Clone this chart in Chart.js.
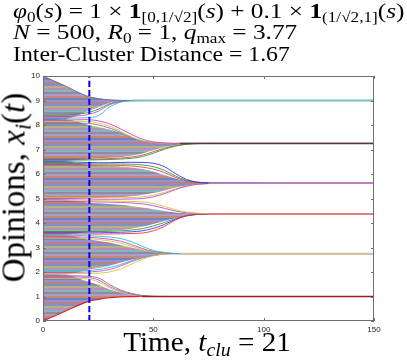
<!DOCTYPE html>
<html>
<head>
<meta charset="utf-8">
<script src="https://cdn.jsdelivr.net/npm/chart.js@4.4.1/dist/chart.umd.min.js"></script>
<style>
  html, body { margin: 0; padding: 0; background: #fff; }
  #wrap { position: relative; width: 407px; height: 361px; overflow: hidden; background: #fff; }
  #chart { position: absolute; left: 0; top: 0; }
  .tex { position: absolute; font-family: "Liberation Serif", "DejaVu Serif", serif; white-space: nowrap; line-height: 1; color: #000; transform-origin: 0 0; }
  .tex sub { font-size: 68%; vertical-align: -0.28em; line-height: 0; }
  .tex i { font-style: italic; }
</style>
</head>
<body>
<div id="wrap">
  <canvas id="chart" width="407" height="361"></canvas>
  <div class="tex" id="line1" style="left:13px; top:0px; font-size:22px; transform:scaleX(1.15);"><i>φ</i><sub>0</sub>(<i>s</i>) = 1 × <b>1</b><sub>[0,1/√2]</sub>(<i>s</i>) + 0.1 × <b>1</b><sub>(1/√2,1]</sub>(<i>s</i>)</div>
  <div class="tex" id="line2" style="left:13px; top:21px; font-size:22px; transform:scaleX(1.15);"><i>N</i> = 500, <i>R</i><sub>0</sub> = 1, <i>q</i><sub>max</sub> = 3.77</div>
  <div class="tex" id="line3" style="left:13px; top:43px; font-size:22px; transform:scaleX(1.08);">Inter-Cluster Distance = 1.67</div>
  <div class="tex" id="ylab" style="left:-136px; top:171px; width:300px; height:33px; text-align:center; font-size:33px; transform-origin:50% 50%; transform:rotate(-90deg);">Opinions, <i>x<sub>i</sub></i>(<i>t</i>)</div>
  <div class="tex" id="xlab" style="left:57px; top:329px; width:300px; text-align:center; font-size:27px; transform-origin:50% 0; transform:scaleX(1.08);">Time, <i>t<sub>clu</sub></i> = 21</div>
</div>
<script>
// time grid (x) shared by every trajectory
const times = [0, 10, 20, 25, 30, 35, 40, 45, 50, 55, 60, 65, 70, 80, 150];

const xTicks = [0, 50, 100, 150];
const yTicks = [0, 1, 2, 3, 4, 5, 6, 7, 8, 9, 10];
const tClu = 21;

// cluster at 9.00
const c6Top    = [10, 9.6, 9.18, 9.08, 9.03, 9.01, 9.0, 9.0, 9.0, 9.0, 9.0, 9.0, 9.0, 9.0, 9.0];
const c6CoreLo = [8.24, 8.25, 8.55, 8.72, 8.9, 8.97, 9.0, 9.0, 9.0, 9.0, 9.0, 9.0, 9.0, 9.0, 9.0];
const c6InLo   = [8.4, 8.41, 8.5, 8.64, 8.86, 8.96, 9.0, 9.0, 9.0, 9.0, 9.0, 9.0, 9.0, 9.0, 9.0];
const c6MidLo  = [8.34, 8.35, 8.42, 8.56, 8.82, 8.95, 8.99, 9.0, 9.0, 9.0, 9.0, 9.0, 9.0, 9.0, 9.0];
const c6OutLo  = [8.28, 8.28, 8.3, 8.38, 8.72, 8.93, 8.99, 9.0, 9.0, 9.0, 9.0, 9.0, 9.0, 9.0, 9.0];

// cluster at 7.25
const c5OutUp  = [8.2, 8.2, 8.22, 8.17, 8.05, 7.85, 7.62, 7.42, 7.31, 7.27, 7.25, 7.25, 7.25, 7.25, 7.25];
const c5MidUp  = [8.14, 8.14, 8.14, 8.08, 7.95, 7.75, 7.52, 7.36, 7.28, 7.25, 7.25, 7.25, 7.25, 7.25, 7.25];
const c5InUp   = [8.08, 8.08, 8.07, 8.0, 7.88, 7.7, 7.5, 7.34, 7.28, 7.25, 7.25, 7.25, 7.25, 7.25, 7.25];
const c5CoreUp = [8.24, 8.23, 8.02, 7.92, 7.82, 7.68, 7.5, 7.36, 7.29, 7.26, 7.25, 7.25, 7.25, 7.25, 7.25];
const c5CoreLo = [6.52, 6.53, 6.62, 6.64, 6.66, 6.69, 6.74, 6.84, 6.97, 7.09, 7.18, 7.23, 7.25, 7.25, 7.25];
const c5MidLo  = [6.6, 6.6, 6.6, 6.61, 6.63, 6.65, 6.69, 6.77, 6.91, 7.05, 7.16, 7.22, 7.25, 7.25, 7.25];
const c5OutLo  = [6.57, 6.57, 6.57, 6.58, 6.59, 6.61, 6.64, 6.71, 6.85, 7.01, 7.14, 7.21, 7.24, 7.25, 7.25];

// cluster at 5.62
const c4OutUp  = [6.5, 6.5, 6.47, 6.46, 6.46, 6.47, 6.48, 6.47, 6.44, 6.3, 6.02, 5.78, 5.67, 5.63, 5.62];
const c4MidUp  = [6.44, 6.44, 6.42, 6.41, 6.41, 6.41, 6.4, 6.37, 6.3, 6.15, 5.92, 5.74, 5.66, 5.63, 5.62];
const c4InUp   = [6.38, 6.38, 6.37, 6.36, 6.36, 6.35, 6.33, 6.28, 6.2, 6.06, 5.86, 5.72, 5.65, 5.62, 5.62];
const c4CoreUp = [6.52, 6.51, 6.38, 6.36, 6.34, 6.31, 6.27, 6.2, 6.1, 5.96, 5.82, 5.71, 5.65, 5.62, 5.62];
const c4CoreLo = [4.96, 4.97, 5.01, 5.02, 5.04, 5.06, 5.09, 5.14, 5.22, 5.33, 5.44, 5.53, 5.58, 5.61, 5.62];
const c4MidLo  = [5.03, 5.03, 5.03, 5.03, 5.03, 5.03, 5.04, 5.07, 5.13, 5.25, 5.39, 5.51, 5.58, 5.61, 5.62];
const c4OutLo  = [4.98, 4.98, 4.98, 4.97, 4.97, 4.97, 4.98, 5.0, 5.07, 5.2, 5.36, 5.5, 5.58, 5.62, 5.62];

// cluster at 4.37
const c3OutUp  = [4.93, 4.93, 4.92, 4.91, 4.9, 4.89, 4.88, 4.86, 4.8, 4.68, 4.54, 4.45, 4.4, 4.37, 4.37];
const c3MidUp  = [4.88, 4.88, 4.87, 4.86, 4.85, 4.84, 4.82, 4.78, 4.71, 4.6, 4.49, 4.42, 4.39, 4.37, 4.37];
const c3CoreUp = [4.96, 4.95, 4.84, 4.81, 4.78, 4.74, 4.69, 4.63, 4.56, 4.49, 4.43, 4.4, 4.38, 4.37, 4.37];
const c3CoreLo = [3.52, 3.53, 3.62, 3.64, 3.67, 3.71, 3.77, 3.85, 3.96, 4.08, 4.2, 4.29, 4.34, 4.37, 4.37];
const c3InLo   = [3.65, 3.65, 3.65, 3.65, 3.66, 3.68, 3.71, 3.77, 3.88, 4.02, 4.18, 4.29, 4.35, 4.37, 4.37];
const c3MidLo  = [3.6, 3.6, 3.6, 3.6, 3.61, 3.62, 3.64, 3.68, 3.78, 3.94, 4.15, 4.29, 4.35, 4.37, 4.37];
const c3OutLo  = [3.55, 3.55, 3.55, 3.55, 3.55, 3.56, 3.57, 3.59, 3.68, 3.86, 4.12, 4.3, 4.36, 4.37, 4.37];

// cluster at 2.75
const c2OutUp  = [3.5, 3.5, 3.48, 3.46, 3.43, 3.37, 3.24, 3.05, 2.88, 2.8, 2.76, 2.75, 2.75, 2.75, 2.75];
const c2MidUp  = [3.44, 3.44, 3.42, 3.39, 3.34, 3.26, 3.12, 2.96, 2.84, 2.78, 2.75, 2.75, 2.75, 2.75, 2.75];
const c2InUp   = [3.38, 3.38, 3.36, 3.33, 3.27, 3.18, 3.05, 2.92, 2.82, 2.77, 2.75, 2.75, 2.75, 2.75, 2.75];
const c2CoreUp = [3.52, 3.51, 3.34, 3.28, 3.2, 3.1, 3.0, 2.9, 2.82, 2.77, 2.75, 2.75, 2.75, 2.75, 2.75];
const c2CoreLo = [1.88, 1.89, 2.08, 2.16, 2.26, 2.38, 2.5, 2.6, 2.68, 2.73, 2.75, 2.75, 2.75, 2.75, 2.75];
const c2InLo   = [2.04, 2.04, 2.06, 2.1, 2.18, 2.3, 2.46, 2.6, 2.69, 2.74, 2.75, 2.75, 2.75, 2.75, 2.75];
const c2MidLo  = [1.98, 1.98, 2.0, 2.03, 2.1, 2.24, 2.42, 2.57, 2.67, 2.73, 2.75, 2.75, 2.75, 2.75, 2.75];
const c2OutLo  = [1.93, 1.93, 1.94, 1.95, 2.0, 2.12, 2.32, 2.52, 2.66, 2.73, 2.75, 2.75, 2.75, 2.75, 2.75];

// cluster at 1.00
const c1OutUp  = [1.85, 1.85, 1.83, 1.76, 1.5, 1.27, 1.13, 1.04, 1.01, 1.0, 1.0, 1.0, 1.0, 1.0, 1.0];
const c1MidUp  = [1.8, 1.8, 1.78, 1.68, 1.42, 1.22, 1.1, 1.03, 1.0, 1.0, 1.0, 1.0, 1.0, 1.0, 1.0];
const c1InUp   = [1.74, 1.74, 1.72, 1.6, 1.36, 1.18, 1.08, 1.02, 1.0, 1.0, 1.0, 1.0, 1.0, 1.0, 1.0];
const c1CoreUp = [1.88, 1.87, 1.62, 1.48, 1.3, 1.16, 1.07, 1.02, 1.0, 1.0, 1.0, 1.0, 1.0, 1.0, 1.0];
const c1Bottom = [0, 0.4, 0.78, 0.88, 0.95, 0.985, 0.997, 1.0, 1.0, 1.0, 1.0, 1.0, 1.0, 1.0, 1.0];

// settled cluster positions and the time each one is reached
const clusterCentres = [9.0, 7.25, 5.62, 4.37, 2.75, 1.0];
const settleTimes = [40, 62, 75, 75, 62, 45];

const toPoints = (values) => values.map((v, i) => ({ x: times[i], y: v }));

const stripeColours = ["#9492d2", "#b8808a", "#8290c4", "#b2b282", "#b890bc", "#86b6b6", "#928aa0", "#ac9ec8", "#c68874", "#7482bc"];

const makeStripes = () => {
  const c = document.createElement("canvas");
  c.width = 4;
  c.height = stripeColours.length * 2;
  const g = c.getContext("2d");
  stripeColours.forEach((col, i) => {
    g.fillStyle = col;
    g.fillRect(0, i * 2, 4, 2);
  });
  return g.createPattern(c, "repeat");
};

const stripes = makeStripes();

const clusters = [
  { upper: c6Top, lower: c6CoreLo, fans: [[c6OutLo, "#1cc4c8"], [c6MidLo, "#d040d0"], [c6InLo, "#2e9a2e"]], colour: "#7fbcbc", width: 2 },
  { upper: c5CoreUp, lower: c5CoreLo, fans: [[c5OutUp, "#e030e0"], [c5MidUp, "#cccc30"], [c5InUp, "#7a7a7a"], [c5OutLo, "#2e9a2e"], [c5MidLo, "#e04040"]], colour: "#4a4238", width: 1.5 },
  { upper: c4CoreUp, lower: c4CoreLo, fans: [[c4OutUp, "#3030ff"], [c4MidUp, "#2e9a2e"], [c4InUp, "#e04040"], [c4OutLo, "#d040d0"], [c4MidLo, "#c8c830"]], colour: "#c27ac4", width: 1.6 },
  { upper: c3CoreUp, lower: c3CoreLo, fans: [[c3OutUp, "#cccc30"], [c3MidUp, "#d040d0"], [c3OutLo, "#ff3030"], [c3MidLo, "#3a3aff"], [c3InLo, "#2e9a2e"]], colour: "#e07c7c", width: 2 },
  { upper: c2CoreUp, lower: c2CoreLo, fans: [[c2OutUp, "#20c8c8"], [c2MidUp, "#d040d0"], [c2InUp, "#cccc30"], [c2OutLo, "#cccc30"], [c2MidLo, "#e040e0"], [c2InLo, "#20c8c8"]], colour: "#d2c2a0", width: 2 },
  { upper: c1CoreUp, lower: c1Bottom, fans: [[c1OutUp, "#7a7a7a"], [c1MidUp, "#d040d0"], [c1InUp, "#cccc30"]], colour: "#a01c1c", width: 1.5 }
];

const datasets = [];

clusters.forEach((cl, k) => {
  const lowIndex = datasets.length;
  datasets.push({
    data: toPoints(cl.lower),
    borderColor: k === 5 ? "#e02020" : "rgba(0,0,0,0)",
    borderWidth: k === 5 ? 1.2 : 0,
    fill: false,
    order: 4
  });
  datasets.push({
    data: toPoints(cl.upper),
    borderColor: k === 0 ? "rgba(90,85,130,0.9)" : "rgba(0,0,0,0)",
    borderWidth: k === 0 ? 0.8 : 0,
    backgroundColor: stripes,
    fill: lowIndex,
    order: 4
  });
  cl.fans.forEach(([values, colour]) => {
    datasets.push({
      data: toPoints(values),
      borderColor: colour,
      borderWidth: 0.9,
      fill: false,
      order: 2
    });
  });
  datasets.push({
    data: [
      { x: settleTimes[k], y: clusterCentres[k] },
      { x: 150, y: clusterCentres[k] }
    ],
    borderColor: cl.colour,
    borderWidth: cl.width,
    fill: false,
    order: 1
  });
});

datasets.push({
  data: [
    { x: tClu, y: 0 },
    { x: tClu, y: 10 }
  ],
  borderColor: "#0000ff",
  borderWidth: 2,
  borderDash: [6, 3],
  fill: false,
  order: 0
});

const frame = {
  id: "frame",
  afterDraw(chart) {
    const { ctx, chartArea: a, scales } = chart;
    ctx.save();
    ctx.strokeStyle = "#6e6e6e";
    ctx.lineWidth = 1;
    ctx.strokeRect(a.left + 0.5, a.top + 0.5, a.right - a.left - 1, a.bottom - a.top - 1);
    ctx.beginPath();
    yTicks.forEach((v) => {
      const y = Math.round(scales.y.getPixelForValue(v)) + 0.5;
      ctx.moveTo(a.left, y);
      ctx.lineTo(a.left + 3, y);
      ctx.moveTo(a.right, y);
      ctx.lineTo(a.right - 3, y);
    });
    xTicks.forEach((v) => {
      const x = Math.round(scales.x.getPixelForValue(v)) + 0.5;
      ctx.moveTo(x, a.bottom);
      ctx.lineTo(x, a.bottom - 3);
      ctx.moveTo(x, a.top);
      ctx.lineTo(x, a.top + 3);
    });
    ctx.stroke();
    ctx.restore();
  }
};

new Chart(document.getElementById("chart"), {
  type: "line",
  data: { datasets },
  plugins: [frame],
  options: {
    responsive: false,
    animation: false,
    events: [],
    layout: { padding: { top: 76, right: 33, left: 0, bottom: 0 } },
    elements: {
      point: { radius: 0 },
      line: { cubicInterpolationMode: "monotone" }
    },
    plugins: {
      legend: { display: false },
      tooltip: { enabled: false },
      title: { display: false }
    },
    scales: {
      x: {
        type: "linear",
        min: 0,
        max: 150,
        afterFit: (s) => { s.height = 40; },
        afterBuildTicks: (s) => { s.ticks = xTicks.map((v) => ({ value: v })); },
        grid: { display: false, drawTicks: false },
        border: { display: false },
        ticks: { color: "#262626", padding: 4, maxRotation: 0, font: { family: "Liberation Sans", size: 8 } }
      },
      y: {
        type: "linear",
        min: 0,
        max: 10,
        afterFit: (s) => { s.width = 43; },
        afterBuildTicks: (s) => { s.ticks = yTicks.map((v) => ({ value: v })); },
        grid: { display: false, drawTicks: false },
        border: { display: false },
        ticks: { color: "#262626", padding: 3, font: { family: "Liberation Sans", size: 8 } }
      }
    }
  }
});
</script>
</body>
</html>
